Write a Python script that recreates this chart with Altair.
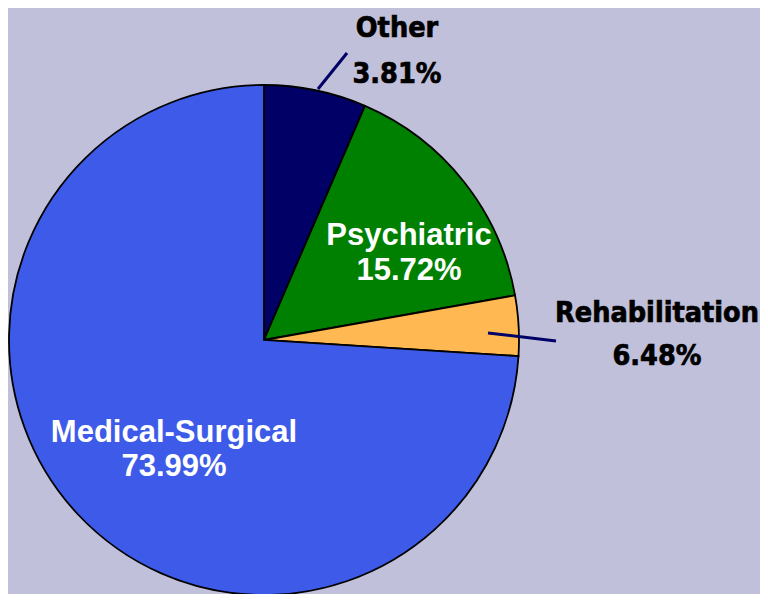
import altair as alt
import pandas as pd

# ---- data (slice sizes as drawn, label texts as printed) ----
categories = ["Other", "Psychiatric", "Rehabilitation", "Medical-Surgical"]
shares = [6.48, 15.72, 3.81, 73.99]
label_pcts = ["3.81%", "15.72%", "6.48%", "73.99%"]

# ---- styling / layout ----
colors = ["#000066", "#008000", "#FFB852", "#3D5BE8"]
BG = "#C0C0DA"
W, H = 752, 586
CX, CY = 256, 332
R = 255

# label layout: offsets from pie centre (x centre, baseline of line 1, baseline of line 2)
label_layout = {
    "Other": (133, -303, -257, "outside"),
    "Psychiatric": (145, -95, -60, "inside"),
    "Rehabilitation": (393, -18, 25, "outside"),
    "Medical-Surgical": (-90, 102, 136, "inside"),
}
# leader lines (offsets from centre)
leaders = {
    "Other": (54, -251, 83, -287),
    "Rehabilitation": (224, -7, 292, 1),
}

df = pd.DataFrame({"category": categories, "share": shares, "order": list(range(len(categories)))})

rows = []
for cat, pct in zip(categories, label_pcts):
    dx, b1, b2, kind = label_layout[cat]
    col = "black" if kind == "outside" else "white"
    rows.append({"text": cat, "x": CX + dx, "y": CY + b1, "kind": kind, "col": col})
    rows.append({"text": pct, "x": CX + dx, "y": CY + b2, "kind": kind, "col": col})
tdf = pd.DataFrame(rows)

ldf = pd.DataFrame([
    {"x": CX + a, "y": CY + b, "x2": CX + c, "y2": CY + d}
    for (a, b, c, d) in leaders.values()
])

arcs = alt.Chart(df).mark_arc(outerRadius=R, stroke="black", strokeWidth=1.8).encode(
    theta=alt.Theta("share:Q", stack=True),
    order=alt.Order("order:Q"),
    color=alt.Color("category:N", scale=alt.Scale(domain=categories, range=colors), legend=None),
    x=alt.value(CX),
    y=alt.value(CY),
)

lines = alt.Chart(ldf).mark_rule(color="#000066", strokeWidth=3).encode(
    x=alt.X("x:Q", scale=None, axis=None),
    y=alt.Y("y:Q", scale=None, axis=None),
    x2="x2:Q",
    y2="y2:Q",
)

outside = alt.Chart(tdf).transform_filter(alt.datum.kind == "outside").mark_text(
    font="DejaVu Sans Condensed, DejaVu Sans", fontWeight="bold", fontSize=28.5,
    align="center", baseline="alphabetic", stroke="black", strokeWidth=0.7,
).encode(
    x=alt.X("x:Q", scale=None, axis=None),
    y=alt.Y("y:Q", scale=None, axis=None),
    text="text:N",
    color=alt.Color("col:N", scale=None),
)

inside = alt.Chart(tdf).transform_filter(alt.datum.kind == "inside").mark_text(
    font="Liberation Sans, Arial", fontWeight="bold", fontSize=31,
    align="center", baseline="alphabetic",
).encode(
    x=alt.X("x:Q", scale=None, axis=None),
    y=alt.Y("y:Q", scale=None, axis=None),
    text="text:N",
    color=alt.Color("col:N", scale=None),
)

chart = alt.layer(arcs, lines, outside, inside).properties(
    width=W, height=H, background=BG, padding=0, autosize="none"
).configure_view(stroke=None)

chart.save("out.html", embed_options={"renderer": "svg", "actions": False})
